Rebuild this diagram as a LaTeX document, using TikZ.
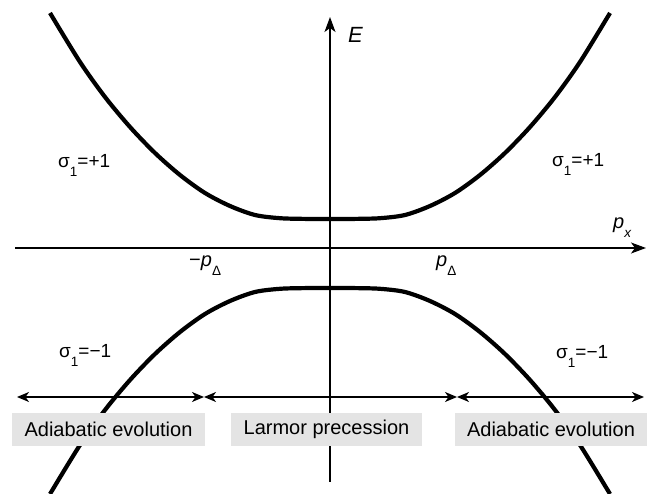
\documentclass[tikz,border=0pt]{standalone}
\usepackage{fontspec}
\setmainfont{Liberation Sans}
\usetikzlibrary{arrows.meta}
\definecolor{boxgray}{HTML}{E4E4E4}
\newcommand{\lowsub}[2]{\raisebox{-#1}{\fontsize{13.5}{14}\selectfont #2}}
\begin{document}
\begin{tikzpicture}[x=1pt,y=-1pt,
  axisline/.style={line width=1.2pt,-{Stealth[length=15pt,width=11pt,inset=4pt]}},
  spanarrow/.style={line width=1.2pt,{Stealth[length=12pt,width=10pt,inset=3.5pt]}-{Stealth[length=12pt,width=10pt,inset=3.5pt]}},
  bandcurve/.style={line width=4.2pt},
  gbox/.style={fill=boxgray,inner sep=0pt,minimum height=33pt,font=\fontsize{20}{24}\selectfont},
  siglabel/.style={anchor=base west,inner sep=0pt,font=\fontsize{19}{22}\selectfont},
  axlabel/.style={anchor=base west,inner sep=0pt,font=\fontsize{20}{22}\selectfont}]
\useasboundingbox (0,0) rectangle (654,494);
% axes
\coordinate (xl) at (15,248);
\coordinate (xr) at (646,248);
\coordinate (yb) at (330,482);
\coordinate (yt) at (330,17);
\draw[axisline] (xl) -- (xr);
\draw[axisline] (yb) -- (yt);
% bands
\draw[bandcurve] plot[smooth] coordinates {(50,13) (80,62) (105,97) (130,127) (155,153) (180,175) (205,193) (230,206) (255,215) (280,218.2) (305,218.9) (330,219) (355,218.9) (380,218.2) (405,215) (430,206) (455,193) (480,175) (505,153) (530,127) (555,97) (580,62) (610,13)};
\draw[bandcurve] plot[smooth] coordinates {(50,494) (80,445) (105,410) (130,380) (155,354) (180,332) (205,314) (230,301) (255,292) (280,288.8) (305,288.1) (330,288) (355,288.1) (380,288.8) (405,292) (430,301) (455,314) (480,332) (505,354) (530,380) (555,410) (580,445) (610,494)};
% span arrows
\coordinate (a0) at (17,397);
\coordinate (a1) at (204,397);
\coordinate (a2) at (457,397);
\coordinate (a3) at (644,397);
\draw[spanarrow] (a0) -- (a1);
\draw[spanarrow] (a1) -- (a2);
\draw[spanarrow] (a2) -- (a3);
% boxes
\node[gbox,minimum width=193pt] (b1) at (108.5,429.5) {Adiabatic evolution};
\node[gbox,minimum width=191pt] (b2) at (326.5,429.5) {Larmor precession};
\node[gbox,minimum width=192pt] (b3) at (551,429.5) {Adiabatic evolution};
% labels
\node[siglabel] (s1) at (58,168) {σ\lowsub{9pt}{1}=+1};
\node[siglabel] (s2) at (552,167) {σ\lowsub{9pt}{1}=+1};
\node[siglabel] (s3) at (59,358) {σ\lowsub{9pt}{1}=−1};
\node[siglabel] (s4) at (556,359) {σ\lowsub{9pt}{1}=−1};
\node[axlabel] (pm) at (189,267) {−\textit{p}\lowsub{9pt}{Δ}};
\node[axlabel] (pp) at (436,267) {\textit{p}\lowsub{9pt}{Δ}};
\node[axlabel] (px) at (613,229) {\textit{p}\lowsub{9pt}{\textit{x}}};
\node[anchor=base west,inner sep=0pt,font=\fontsize{22}{24}\selectfont] (E) at (348,43) {\textit{E}};
\end{tikzpicture}
\end{document}
